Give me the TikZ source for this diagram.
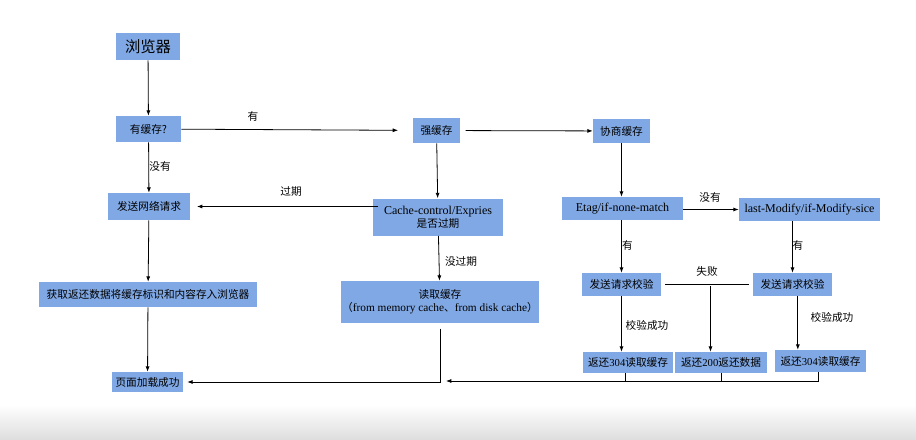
\documentclass[tikz,border=0pt]{standalone}
\usepackage{fontspec}
\setmainfont{Liberation Serif}
\newfontfamily\cjk{Noto Sans CJK SC}
\usetikzlibrary{positioning}
\usetikzlibrary{arrows.meta}

\definecolor{boxblue}{RGB}{128,168,228}

\tikzset{
	box/.style={fill=boxblue, inner sep=0pt, align=center, font=\cjk\fontsize{8}{10}\selectfont},
	lbl/.style={font=\cjk\fontsize{8}{10}\selectfont},
	arr/.style={-{Latex[length=4pt,width=3pt]}, semithick},
	ln/.style={semithick}
}

\begin{document}
\begin{tikzpicture}[x=0.75pt, y=-0.75pt]
	\fill[white] (0,0) rectangle (916,439);
	\useasboundingbox (0,0) rectangle (916,439);
	\shade[top color=white, bottom color=black!13] (0,405) rectangle (916,439);

	\node[box, minimum width=48pt, minimum height=20.25pt, font=\cjk\fontsize{11.5}{13}\selectfont] (browser) at (148,46.5) {浏览器};
	\node[box, minimum width=48.75pt, minimum height=19.5pt] (hascache) at (148.5,129) {有缓存?};
	\node[box, minimum width=61.5pt, minimum height=20.25pt] (sendreq) at (149,206.5) {发送网络请求};
	\node[box, minimum width=163.5pt, minimum height=18.75pt] (fetch) at (148,294.5) {获取返还数据将缓存标识和内容存入浏览器};
	\node[box, minimum width=53.25pt, minimum height=15pt] (done) at (147.5,382) {页面加载成功};

	\node[box, minimum width=35.25pt, minimum height=18.75pt] (strong) at (436.5,130.5) {强缓存};
	\node[box, minimum width=97.5pt, minimum height=27.75pt] (cache) at (438,217)
		{{\rmfamily\fontsize{9}{10}\selectfont Cache-control/Expries}\\是否过期};
	\node[box, minimum width=148.5pt, minimum height=31.5pt] (read) at (440,302)
		{读取缓存\\（{\rmfamily\fontsize{8.5}{10}\selectfont from memory cache}、{\rmfamily\fontsize{8.5}{10}\selectfont from disk cache}）};

	\node[box, minimum width=42.75pt, minimum height=18pt] (nego) at (621.5,131) {协商缓存};
	\node[box, minimum width=90.75pt, minimum height=17.25pt, font=\rmfamily\fontsize{9}{10}\selectfont] (etag) at (622.5,208.5) {Etag/if-none-match};
	\node[box, minimum width=105.75pt, minimum height=17.25pt, font=\rmfamily\fontsize{9}{10}\selectfont] (lastmod) at (809.5,209.5) {last-Modify/if-Modify-sice};
	\node[box, minimum width=59.25pt, minimum height=17.25pt] (check1) at (621.5,284.5) {发送请求校验};
	\node[box, minimum width=59.25pt, minimum height=17.25pt] (check2) at (792.5,284.5) {发送请求校验};
	\node[box, minimum width=67.5pt, minimum height=15.75pt] (r304a) at (628,362.5) {返还{\rmfamily 304}读取缓存};
	\node[box, minimum width=69pt, minimum height=15.75pt] (r200) at (721,362.5) {返还{\rmfamily 200}返还数据};
	\node[box, minimum width=68.25pt, minimum height=16.5pt] (r304b) at (820.5,361) {返还{\rmfamily 304}读取缓存};

	\coordinate (fork) at (710.5,286);
	\coordinate (merge) at (446,381);

	\draw[arr] (browser) -- (hascache);
	\draw[arr, shorten >=11pt] (hascache) -- (strong);
	\draw[arr, shorten <=4pt] (strong) -- (nego);
	\draw[arr] (strong) -- (cache);
	\draw[arr] (hascache) -- (sendreq);
	\draw[arr, shorten <=-4pt, shorten >=5pt] (cache.west |- sendreq.east) -- (sendreq.east);
	\draw[arr] (sendreq) -- (fetch);
	\draw[arr] (fetch) -- (done);
	\draw[arr] (cache) -- (read);
	\draw[arr, shorten <=4pt, shorten >=3pt] (read.south) |- (done.east);

	\draw[arr] (nego) -- (nego |- etag.north);
	\draw[arr] (etag.east |- lastmod.west) -- (lastmod.west);
	\draw[arr] (etag.south -| check1.north) -- (check1.north);
	\draw[arr] (lastmod.south -| check2.north) -- (check2.north);
	\draw[ln, shorten <=3pt, shorten >=3pt] (check1.east) -- (check2.west);
	\draw[arr] (fork) -- (fork |- r200.north);
	\draw[arr] (check1.south) -- (check1.south |- r304a.north);
	\draw[arr] ([xshift=4pt]check2.south) -- ([xshift=4pt]check2.south |- r304b.north);
	\draw[ln] (r304a.south -| 625,0) -- (625,381);
	\draw[ln] (r200.south) -- (r200.south |- merge);
	\draw[arr] (r304b.south -| 818,0) |- (merge);

	\node[lbl] (lyou) at (253,116) {有};
	\node[lbl] (lmeiyou) at (160,166) {没有};
	\node[lbl] (lguoqi) at (291,191) {过期};
	\node[lbl] (lmeiguoqi) at (461,261) {没过期};
	\node[lbl] (lmeiyou2) at (710,197) {没有};
	\node[lbl] (lyou2) at (627.5,245) {有};
	\node[lbl] (lyou3) at (798,245) {有};
	\node[lbl] (lshibai) at (707,271) {失败};
	\node[lbl] (lok1) at (647,325) {校验成功};
	\node[lbl] (lok2) at (832,317) {校验成功};
\end{tikzpicture}
\end{document}
